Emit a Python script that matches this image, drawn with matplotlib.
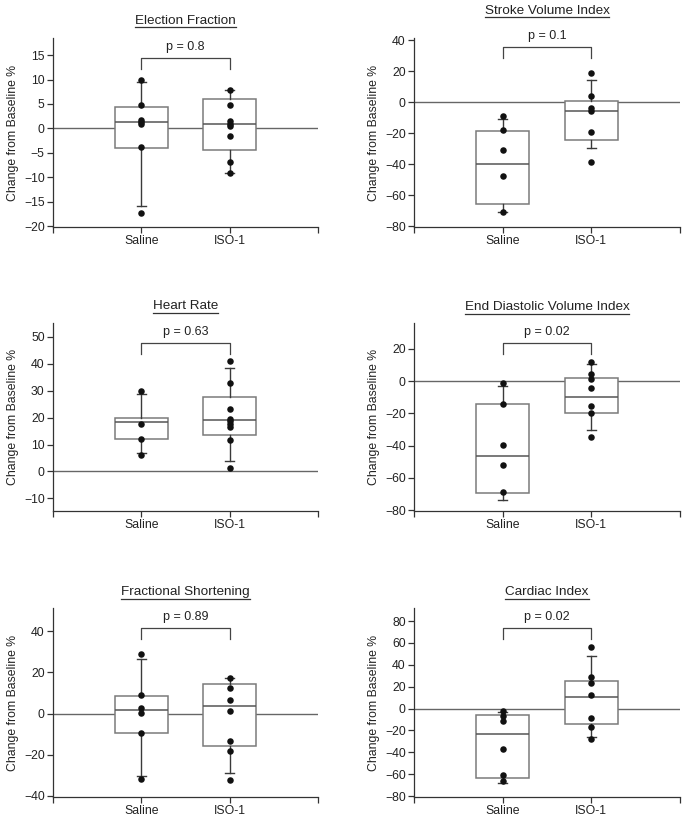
import matplotlib
matplotlib.use('Agg')
import matplotlib.pyplot as plt
from matplotlib.lines import Line2D

plt.rcParams['font.family'] = ['Liberation Sans', 'DejaVu Sans']

groups = ['Saline', 'ISO-1']

# box stats are [whislo, q1, med, q3, whishi]
# Election Fraction
ef_saline = [10.0, 4.7, 1.8, 1.35, 0.9, -3.8, -17.4]
ef_iso = [7.8, 4.8, 1.55, 0.9, 0.4, -1.6, -6.9, -9.2]
ef_box_saline = [-16.0, -4.1, 1.2, 4.4, 9.4]
ef_box_iso = [-9.2, -4.5, 0.8, 6.1, 7.8]

# Stroke Volume Index
svi_saline = [-9.0, -18.1, -31.0, -47.5, -70.7]
svi_iso = [18.9, 3.9, -3.9, -5.6, -19.4, -38.7]
svi_box_saline = [-70.7, -65.6, -40.0, -18.5, -11.2]
svi_box_iso = [-29.9, -24.7, -6.0, 0.6, 14.4]

# Heart Rate
hr_saline = [29.8, 17.7, 11.9, 6.0]
hr_iso = [41.1, 32.8, 23.1, 19.6, 18.6, 17.5, 16.4, 11.7, 1.3]
hr_box_saline = [6.7, 11.9, 18.4, 19.9, 28.8]
hr_box_iso = [3.8, 13.7, 19.0, 27.7, 38.6]

# End Diastolic Volume Index
edvi_saline = [-1.3, -14.0, -39.6, -51.9, -69.0]
edvi_iso = [12.0, 4.6, 1.2, -4.3, -15.7, -19.5, -34.4]
edvi_box_saline = [-73.6, -69.4, -46.7, -14.2, -2.8]
edvi_box_iso = [-30.3, -19.6, -9.8, 2.2, 10.5]

# Fractional Shortening
fs_saline = [29.0, 8.8, 2.9, 0.3, -9.3, -31.9]
fs_iso = [17.1, 12.5, 6.5, 1.2, -13.5, -18.3, -32.2]
fs_box_saline = [-30.3, -9.6, 1.55, 8.6, 26.3]
fs_box_iso = [-28.7, -15.8, 3.6, 14.2, 17.1]

# Cardiac Index
ci_saline = [-2.0, -6.6, -11.7, -36.7, -60.8, -66.6]
ci_iso = [56.2, 28.8, 23.6, 12.1, -9.0, -17.2, -27.9]
ci_box_saline = [-68.1, -63.2, -23.3, -6.2, -2.9]
ci_box_iso = [-25.8, -14.2, 10.5, 25.4, 48.3]

titles = ['Election Fraction', 'Stroke Volume Index', 'Heart Rate',
          'End Diastolic Volume Index', 'Fractional Shortening', 'Cardiac Index']
p_labels = ['p = 0.8', 'p = 0.1', 'p = 0.63', 'p = 0.02', 'p = 0.89', 'p = 0.02']
y_ticks = [range(-20, 16, 5), range(-80, 41, 20), range(-10, 51, 10),
           range(-80, 21, 20), range(-40, 41, 20), range(-80, 81, 20)]

points = [(ef_saline, ef_iso), (svi_saline, svi_iso), (hr_saline, hr_iso),
          (edvi_saline, edvi_iso), (fs_saline, fs_iso), (ci_saline, ci_iso)]
boxes = [(ef_box_saline, ef_box_iso), (svi_box_saline, svi_box_iso),
         (hr_box_saline, hr_box_iso), (edvi_box_saline, edvi_box_iso),
         (fs_box_saline, fs_box_iso), (ci_box_saline, ci_box_iso)]

# layout (pixels)
W, H = 687, 822
col_x = [(53, 318), (414, 680)]
row_y = [(38, 227), (323, 510.5), (608, 797)]
y_lims = [(-20.2, 18.5), (-80.6, 41.3), (-14.5, 55.2),
          (-80.3, 36.1), (-40.5, 51.2), (-80.8, 91.9)]
bracket_off = [20, 9, 20, 20, 20, 20]   # px below axes top
title_off = [17, 27, 17, 16, 16, 16]    # px above axes top

box_c = '#7a7a7a'
line_c = '#3a3a3a'
txt_c = '#222222'
fs = 8.8

fig = plt.figure(figsize=(W / 100, H / 100), dpi=100)
title_texts = []

for i in range(6):
    r, c = divmod(i, 2)
    x0, x1 = col_x[c]
    top, bot = row_y[r]
    ax_h = bot - top
    ax = fig.add_axes([x0 / W, 1 - bot / H, (x1 - x0) / W, ax_h / H])

    stats = []
    for b in boxes[i]:
        stats.append(dict(whislo=b[0], q1=b[1], med=b[2], q3=b[3], whishi=b[4], fliers=[]))
    ax.bxp(stats, positions=[1, 2], widths=0.6, capwidths=0.1, showfliers=False,
           patch_artist=True,
           boxprops=dict(facecolor='white', edgecolor=box_c, linewidth=1.1),
           medianprops=dict(color='#555555', linewidth=1.1),
           whiskerprops=dict(color=line_c, linewidth=1.0),
           capprops=dict(color=line_c, linewidth=1.0), zorder=2)
    ax.axhline(0, color='#666666', linewidth=1.0, zorder=1)

    for pos, vals in zip([1, 2], points[i]):
        ax.scatter([pos] * len(vals), vals, s=22, color='#111111', zorder=4, linewidths=0)

    ax.set_xlim(0, 3)
    ax.set_ylim(*y_lims[i])
    ax.set_xticks([0, 1, 2, 3])
    ax.set_xticklabels([''] + groups + [''])
    ax.set_yticks(list(y_ticks[i]))
    ax.tick_params(axis='both', length=4, width=0.9, color='#333333',
                   labelsize=fs, labelcolor=txt_c, pad=2)
    for s in ['top', 'right']:
        ax.spines[s].set_visible(False)
    for s in ['left', 'bottom']:
        ax.spines[s].set_color('#333333')
        ax.spines[s].set_linewidth(0.9)
    ax.set_ylabel('Change from Baseline %', fontsize=fs, color=txt_c)
    ax.yaxis.set_label_coords(-34 / (x1 - x0), 0.5)

    # significance bracket
    xt = ax.get_xaxis_transform()
    yb = 1 - bracket_off[i] / ax_h
    yl = yb - 11 / ax_h
    ax.plot([1, 1, 2, 2], [yl, yb, yb, yl], color='#444444', linewidth=0.9,
            transform=xt, clip_on=False)
    ax.text(1.5, yb + 11 / ax_h, p_labels[i], transform=xt, ha='center', va='center',
            fontsize=fs + 0.2, color=txt_c)

    t = ax.text(1.5, 1 + title_off[i] / ax_h, titles[i], transform=xt,
                ha='center', va='center', fontsize=9.7, color=txt_c)
    title_texts.append(t)

# underline titles
fig.canvas.draw()
inv = fig.transFigure.inverted()
for t in title_texts:
    bb = t.get_window_extent()
    (a0, b0), (a1, _) = inv.transform([(bb.x0, bb.y0 - 0.5), (bb.x1, bb.y0 - 0.5)])
    fig.add_artist(Line2D([a0, a1], [b0, b0], color='#333333', linewidth=0.9,
                          transform=fig.transFigure))

fig.savefig('out.png', dpi=100)
